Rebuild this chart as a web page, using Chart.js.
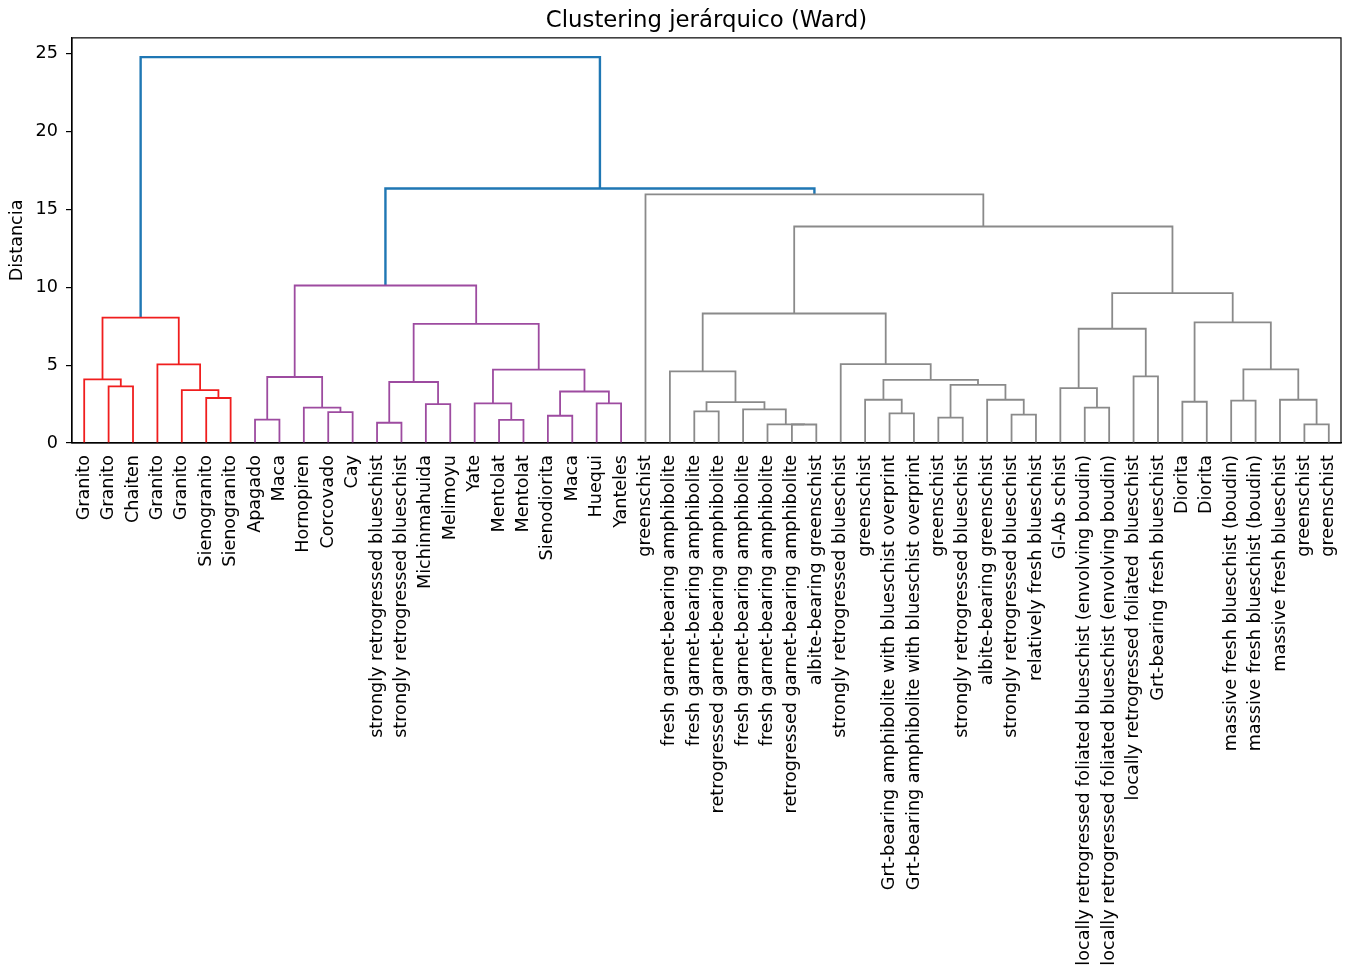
<!DOCTYPE html>
<html lang="es">
<head>
<meta charset="utf-8">
<title>Clustering jerárquico (Ward)</title>
<script src="https://cdn.jsdelivr.net/npm/chart.js@4.4.1/dist/chart.umd.min.js"></script>
<style>
    html, body { margin: 0; padding: 0; background: #ffffff; }
    #wrap { width: 1347px; height: 974px; }
</style>
</head>
<body>
<div id="wrap"><canvas id="dendro" width="1347" height="974"></canvas></div>
<script>
// hojas en el orden del dendrograma (izquierda -> derecha)
const leafLabels = [
    'Granito', 'Granito', 'Chaiten', 'Granito', 'Granito', 'Sienogranito', 'Sienogranito',
    'Apagado', 'Maca', 'Hornopiren', 'Corcovado', 'Cay',
    'strongly retrogressed blueschist', 'strongly retrogressed blueschist',
    'Michinmahuida', 'Melimoyu', 'Yate', 'Mentolat', 'Mentolat', 'Sienodiorita', 'Maca', 'Huequi', 'Yanteles',
    'greenschist',
    'fresh garnet-bearing amphibolite', 'fresh garnet-bearing amphibolite',
    'retrogressed garnet-bearing amphibolite', 'fresh garnet-bearing amphibolite',
    'fresh garnet-bearing amphibolite', 'retrogressed garnet-bearing amphibolite',
    'albite-bearing greenschist', 'strongly retrogressed blueschist', 'greenschist',
    'Grt-bearing amphibolite with blueschist overprint', 'Grt-bearing amphibolite with blueschist overprint',
    'greenschist', 'strongly retrogressed blueschist', 'albite-bearing greenschist',
    'strongly retrogressed blueschist', 'relatively fresh blueschist', 'Gl-Ab schist',
    'locally retrogressed foliated blueschist (envolving boudin)',
    'locally retrogressed foliated blueschist (envolving boudin)',
    'locally retrogressed foliated  blueschist', 'Grt-bearing fresh blueschist',
    'Diorita', 'Diorita', 'massive fresh blueschist (boudin)', 'massive fresh blueschist (boudin)',
    'massive fresh blueschist', 'greenschist', 'greenschist'
];

// uniones tipo linkage: [hijo izq, hijo der, distancia]
// ids < n son hojas, id n + k es la unión k
const linkLeft = [
    1, 0, 5, 4, 3, 53,
    7, 10, 9, 58, 12, 14, 62, 17, 16, 19, 21, 67, 66, 64, 61,
    25, 29, 28, 27, 73, 24, 33, 32, 35, 38, 37, 81, 80, 31, 78,
    41, 40, 43, 89, 45, 47, 50, 49, 93, 92, 91, 87, 23,
    72, 57
];
const linkRight = [
    2, 52, 6, 54, 55, 56,
    8, 11, 59, 60, 13, 15, 63, 18, 65, 20, 22, 68, 69, 70, 71,
    26, 30, 74, 75, 76, 77, 34, 79, 36, 39, 82, 83, 84, 85, 86,
    42, 88, 44, 90, 46, 48, 51, 94, 95, 96, 97, 98, 99,
    100, 101
];
const linkHeight = [
    3.64, 4.09, 2.89, 3.40, 5.05, 8.05,
    1.50, 1.99, 2.27, 4.24, 1.30, 2.50, 3.92, 1.48, 2.54, 1.75, 2.54, 3.31, 4.71, 7.66, 10.12,
    2.03, 1.19, 1.20, 2.16, 2.63, 4.60, 1.90, 2.78, 1.63, 1.82, 2.78, 3.74, 4.05, 5.07, 8.32,
    2.27, 3.53, 4.28, 7.34, 2.65, 2.72, 1.20, 2.78, 4.73, 7.75, 9.63, 13.91, 15.97,
    16.35, 24.79
];

const yTicks = [0, 5, 10, 15, 20, 25];
const colorThreshold = 16.2;
const clusterColors = ['#f01e1e', '#9d4ba0', '#8a8a8a'];
const aboveColor = '#1f77b4';

const n = leafLabels.length;

// posicion x (unidades de datos) y altura de cada nodo
const nodeX = leafLabels.map((_, i) => 10 * i + 5);
const nodeH = leafLabels.map(() => 0);
linkHeight.forEach((h, k) => {
    nodeX.push((nodeX[linkLeft[k]] + nodeX[linkRight[k]]) / 2);
    nodeH.push(h);
});

// colores por cluster debajo del umbral, como scipy
const linkColor = new Array(linkHeight.length).fill(aboveColor);
let nextColor = 0;
function paint(id, color) {
    if (id < n) return;
    const k = id - n;
    if (color === null && linkHeight[k] < colorThreshold) {
        color = clusterColors[nextColor++ % clusterColors.length];
    }
    if (color !== null) linkColor[k] = color;
    paint(linkLeft[k], color);
    paint(linkRight[k], color);
}
paint(n + linkHeight.length - 1, null);

const datasets = linkHeight.map((h, k) => {
    const a = linkLeft[k], b = linkRight[k];
    return {
        data: [
            { x: nodeX[a], y: nodeH[a] },
            { x: nodeX[a], y: h },
            { x: nodeX[b], y: h },
            { x: nodeX[b], y: nodeH[b] }
        ],
        showLine: true,
        borderColor: linkColor[k],
        borderWidth: linkColor[k] === aboveColor ? 2.4 : 1.8,
        pointRadius: 0,
        tension: 0,
        fill: false
    };
});

// marco completo del area de dibujo
const frame = {
    id: 'frame',
    afterDraw(chart) {
        const { ctx, chartArea: a } = chart;
        ctx.save();
        ctx.strokeStyle = '#000';
        ctx.lineWidth = 1.2;
        ctx.strokeRect(a.left, a.top, a.right - a.left, a.bottom - a.top);
        ctx.restore();
    }
};

Chart.defaults.font.family = "'DejaVu Sans', 'Liberation Sans', sans-serif";
Chart.defaults.color = '#000';

new Chart(document.getElementById('dendro'), {
    type: 'scatter',
    data: { datasets },
    options: {
        responsive: false,
        animation: false,
        events: [],
        layout: { padding: { left: 0, right: 6, top: 0, bottom: 0 } },
        plugins: {
            legend: { display: false },
            tooltip: { enabled: false },
            title: {
                display: true,
                fullSize: false,
                text: 'Clustering jerárquico (Ward)',
                font: { size: 22.8, weight: 'normal' },
                color: '#000',
                padding: { top: 7, bottom: 3.5 }
            }
        },
        scales: {
            x: {
                type: 'linear',
                min: 0,
                max: 10 * n,
                grid: { display: false },
                border: { display: true, color: '#000', width: 1.2 },
                afterBuildTicks: scale => {
                    scale.ticks = nodeX.slice(0, n).map(v => ({ value: v }));
                },
                afterFit: scale => {
                    scale.height = 531;
                    scale.paddingLeft = 0;
                    scale.paddingRight = 0;
                },
                ticks: {
                    autoSkip: false,
                    minRotation: 90,
                    maxRotation: 90,
                    padding: 4,
                    font: { size: 17.6 },
                    callback: v => leafLabels[(v - 5) / 10]
                }
            },
            y: {
                min: 0,
                max: 26.03,
                afterBuildTicks: scale => {
                    scale.ticks = yTicks.map(v => ({ value: v }));
                },
                afterFit: scale => {
                    scale.width = 72;
                    scale.paddingTop = 0;
                    scale.paddingBottom = 0;
                },
                grid: {
                    drawOnChartArea: false,
                    drawTicks: true,
                    tickLength: 6,
                    color: '#000',
                    lineWidth: 1.2
                },
                border: { display: true, color: '#000', width: 1.2 },
                ticks: {
                    padding: 8,
                    font: { size: 17.6 }
                },
                title: {
                    display: true,
                    text: 'Distancia',
                    font: { size: 17.6 },
                    padding: { top: 7, bottom: 0 }
                }
            }
        }
    },
    plugins: [frame]
});
</script>
</body>
</html>
